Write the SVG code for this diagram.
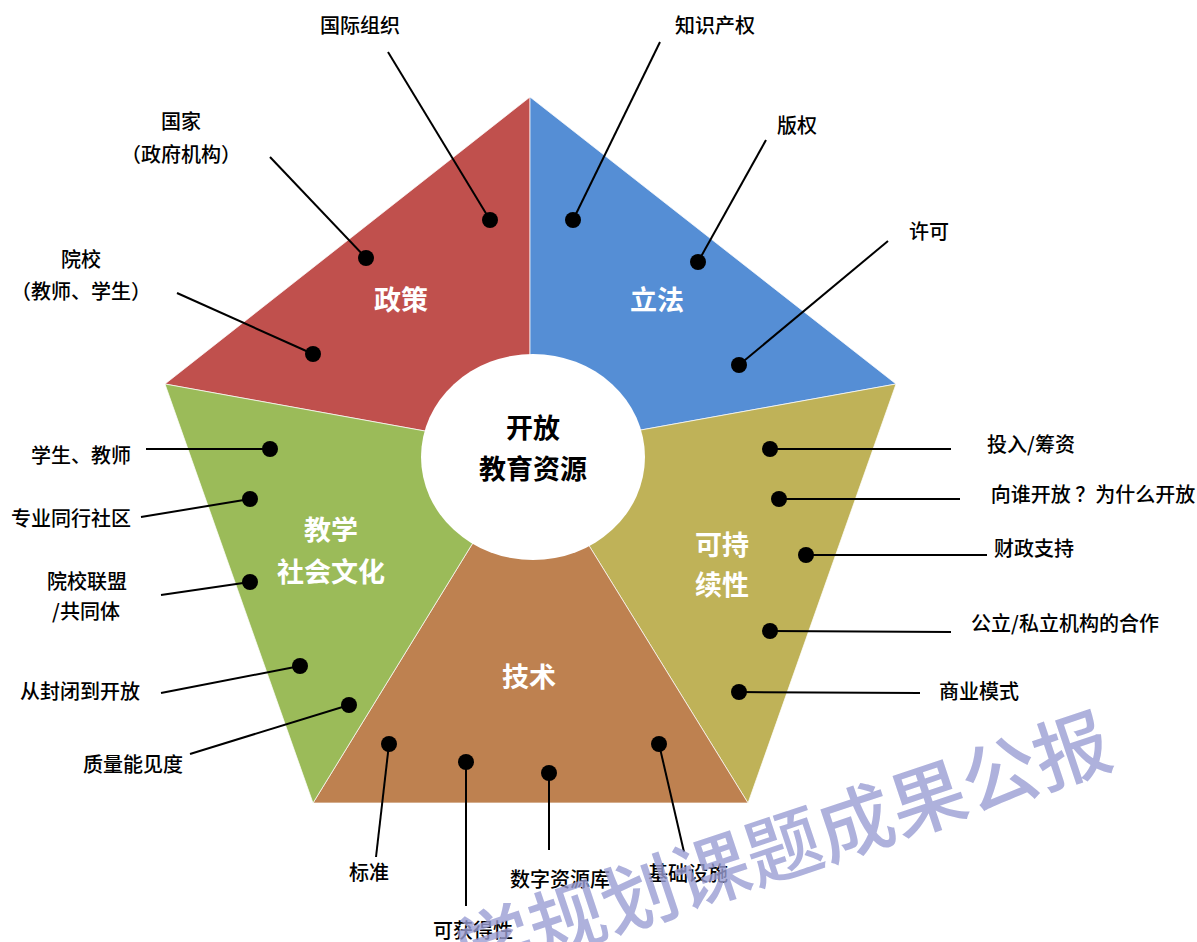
<svg xmlns="http://www.w3.org/2000/svg" width="1197" height="942" viewBox="0 0 1197 942">
<style>
.seg{stroke:#ffffff;stroke-width:1;stroke-opacity:0.7}
.lbl{font-family:"Noto Sans CJK SC","Noto Sans",sans-serif;font-size:20px;font-weight:500;fill:#000;text-anchor:middle}
.seglbl{font-family:"Noto Sans CJK SC","Noto Sans",sans-serif;font-size:27px;font-weight:bold;fill:#fff;text-anchor:middle}
.ctr{font-family:"Noto Sans CJK SC","Noto Sans",sans-serif;font-size:27px;font-weight:bold;fill:#000;text-anchor:middle}
.ld{stroke:#000;stroke-width:2;fill:none}
.dot{fill:#000}
.wm{font-family:"Noto Sans CJK SC","Noto Sans",sans-serif;font-size:76px;font-weight:500;fill:#9A9DD3;fill-opacity:0.8}
</style>
<rect width="1197" height="942" fill="#ffffff"/>
<g id="segments">
<g id="seg-policy"><polygon class="seg" points="530,97 530,450 165,384" fill="#C0504D"/><text class="seglbl" x="401" y="310">政策</text></g>
<g id="seg-law"><polygon class="seg" points="530,97 896,384 530,450" fill="#558ED5"/><text class="seglbl" x="657" y="310">立法</text></g>
<g id="seg-sustain"><polygon class="seg" points="896,384 748,803 530,450" fill="#BFB258"/><text class="seglbl" x="722" y="555">可持</text><text class="seglbl" x="722" y="595">续性</text></g>
<g id="seg-tech"><polygon class="seg" points="748,803 313,803 530,450" fill="#BE8150"/><text class="seglbl" x="529" y="687">技术</text></g>
<g id="seg-culture"><polygon class="seg" points="313,803 165,384 530,450" fill="#9BBB59"/><text class="seglbl" x="331" y="540">教学</text><text class="seglbl" x="331" y="582">社会文化</text></g>
</g>
<g id="center">
<ellipse cx="533" cy="457" rx="112" ry="103" fill="#ffffff"/>
<text class="ctr" x="533" y="438">开放</text>
<text class="ctr" x="533" y="479">教育资源</text>
</g>
<g id="connectors">
<line class="ld" x1="388" y1="52" x2="490" y2="220"/><circle class="dot" cx="490" cy="220" r="8"/>
<line class="ld" x1="270" y1="157" x2="366" y2="258"/><circle class="dot" cx="366" cy="258" r="8"/>
<line class="ld" x1="177" y1="293" x2="313" y2="354"/><circle class="dot" cx="313" cy="354" r="8"/>
<line class="ld" x1="660" y1="42" x2="573" y2="220"/><circle class="dot" cx="573" cy="220" r="8"/>
<line class="ld" x1="766" y1="140" x2="698" y2="262"/><circle class="dot" cx="698" cy="262" r="8"/>
<line class="ld" x1="888" y1="241" x2="739" y2="365"/><circle class="dot" cx="739" cy="365" r="8"/>
<line class="ld" x1="770" y1="449" x2="951" y2="449"/><circle class="dot" cx="770" cy="449" r="8"/>
<line class="ld" x1="779" y1="499" x2="960" y2="499"/><circle class="dot" cx="779" cy="499" r="8"/>
<line class="ld" x1="806" y1="555" x2="987" y2="555"/><circle class="dot" cx="806" cy="555" r="8"/>
<line class="ld" x1="770" y1="631" x2="951" y2="632"/><circle class="dot" cx="770" cy="631" r="8"/>
<line class="ld" x1="739" y1="692" x2="920" y2="693"/><circle class="dot" cx="739" cy="692" r="8"/>
<line class="ld" x1="146" y1="449" x2="270" y2="449"/><circle class="dot" cx="270" cy="449" r="8"/>
<line class="ld" x1="141" y1="517" x2="250" y2="499"/><circle class="dot" cx="250" cy="499" r="8"/>
<line class="ld" x1="161" y1="595" x2="250" y2="582"/><circle class="dot" cx="250" cy="582" r="8"/>
<line class="ld" x1="161" y1="693" x2="300" y2="666"/><circle class="dot" cx="300" cy="666" r="8"/>
<line class="ld" x1="190" y1="754" x2="349" y2="705"/><circle class="dot" cx="349" cy="705" r="8"/>
<line class="ld" x1="389" y1="744" x2="376" y2="857"/><circle class="dot" cx="389" cy="744" r="8"/>
<line class="ld" x1="466" y1="762" x2="466" y2="906"/><circle class="dot" cx="466" cy="762" r="8"/>
<line class="ld" x1="549" y1="773" x2="549" y2="850"/><circle class="dot" cx="549" cy="773" r="8"/>
<line class="ld" x1="659" y1="744" x2="684" y2="852"/><circle class="dot" cx="659" cy="744" r="8"/>
</g>
<g id="labels">
<g id="l-intl"><text class="lbl" x="360" y="33">国际组织</text></g>
<g id="l-nation"><text class="lbl" x="181" y="129">国家</text><text class="lbl" x="181" y="162">（政府机构）</text></g>
<g id="l-school"><text class="lbl" x="81" y="267">院校</text><text class="lbl" x="81" y="299">（教师、学生）</text></g>
<g id="l-ip"><text class="lbl" x="715" y="33">知识产权</text></g>
<g id="l-copyright"><text class="lbl" x="797" y="133">版权</text></g>
<g id="l-license"><text class="lbl" x="929" y="239">许可</text></g>
<g id="l-funding"><text class="lbl" x="1031" y="452">投入/筹资</text></g>
<g id="l-whom"><text class="lbl" x="1093" y="502">向谁开放 ？为什么开放</text></g>
<g id="l-finance"><text class="lbl" x="1034" y="556">财政支持</text></g>
<g id="l-ppp"><text class="lbl" x="1065" y="631">公立/私立机构的合作</text></g>
<g id="l-biz"><text class="lbl" x="979" y="699">商业模式</text></g>
<g id="l-students"><text class="lbl" x="81" y="463">学生、教师</text></g>
<g id="l-peer"><text class="lbl" x="71" y="526">专业同行社区</text></g>
<g id="l-alliance"><text class="lbl" x="87" y="589">院校联盟</text><text class="lbl" x="86" y="619">/共同体</text></g>
<g id="l-open"><text class="lbl" x="80" y="699">从封闭到开放</text></g>
<g id="l-quality"><text class="lbl" x="133" y="772">质量能见度</text></g>
<g id="l-standard"><text class="lbl" x="369" y="880">标准</text></g>
<g id="l-access"><text class="lbl" x="473" y="938">可获得性</text></g>
<g id="l-repo"><text class="lbl" x="560" y="887">数字资源库</text></g>
<g id="l-infra"><text class="lbl" x="688" y="881">基础设施</text></g>
</g>
<g id="watermark">
<text class="wm" transform="translate(468,982) rotate(-18.5)">学规划课题成果公报</text>
</g>
</svg>
